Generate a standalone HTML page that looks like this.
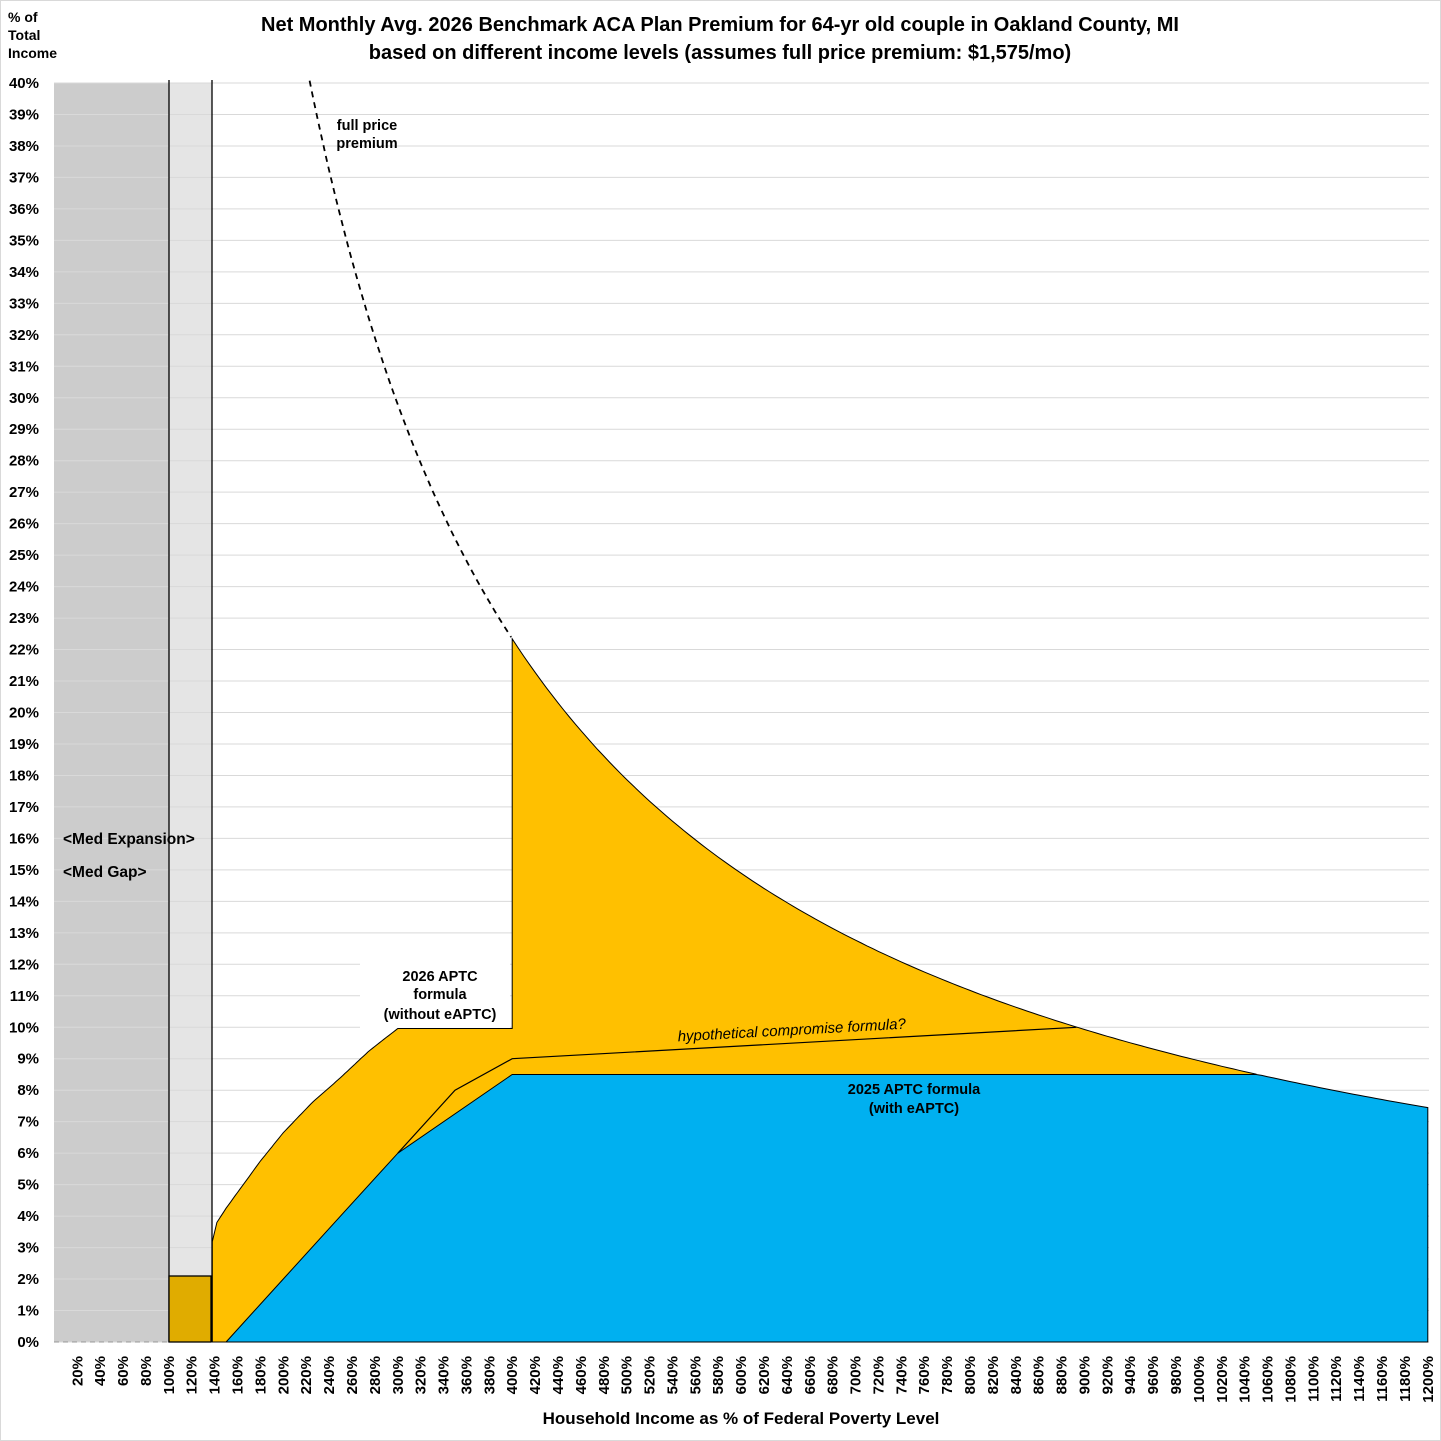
<!DOCTYPE html>
<html><head><meta charset="utf-8"><style>
body{margin:0;background:#fff}
svg{display:block;font-family:"Liberation Sans",Arial,sans-serif}
</style></head><body>
<svg id="s" width="1441" height="1441" xmlns="http://www.w3.org/2000/svg">
<rect x="0" y="0" width="1441" height="1441" fill="#fff"/>
<rect x="0.5" y="0.5" width="1440" height="1440" fill="none" stroke="#d9d9d9"/>
<rect x="54" y="83" width="115" height="1259" fill="#cccccc"/>
<rect x="169" y="83" width="43" height="1259" fill="#e5e5e5"/>
<g id="grid"></g>
<line x1="169" y1="80" x2="169" y2="1342" stroke="#000" stroke-width="1.3"/>
<line x1="212" y1="80" x2="212" y2="1342" stroke="#000" stroke-width="1.3"/>
<rect x="169" y="1276" width="42" height="66" fill="#e0ac00" stroke="#000" stroke-width="1.3"/>
<g id="series"></g>
<rect x="360" y="960" width="150" height="68" fill="#fff"/>
<g font-weight="bold" text-anchor="middle" font-size="14.5" fill="#000">
<text x="440" y="981">2026 APTC</text>
<text x="440" y="999">formula</text>
<text x="440" y="1019">(without eAPTC)</text>
<text x="367" y="130">full price</text>
<text x="367" y="148">premium</text>
<text x="914" y="1094">2025 APTC formula</text>
<text x="914" y="1113">(with eAPTC)</text>
</g>
<text x="792" y="1035" font-size="15" font-style="italic" text-anchor="middle" transform="rotate(-3.2 792 1035)">hypothetical compromise formula?</text>
<g font-weight="bold" font-size="15.5">
<text x="63" y="844">&lt;Med Expansion&gt;</text>
<text x="63" y="877">&lt;Med Gap&gt;</text>
</g>
<g font-weight="bold" font-size="20" text-anchor="middle">
<text x="720" y="31">Net Monthly Avg. 2026 Benchmark ACA Plan Premium for 64-yr old couple in Oakland County, MI</text>
<text x="720" y="59">based on different income levels (assumes full price premium: $1,575/mo)</text>
</g>
<g font-weight="bold" font-size="14">
<text x="8" y="22">% of</text>
<text x="8" y="40">Total</text>
<text x="8" y="58">Income</text>
</g>
<text x="741" y="1424" font-weight="bold" font-size="17" text-anchor="middle">Household Income as % of Federal Poverty Level</text>
<g id="ticks" font-weight="bold" font-size="15"></g>
</svg>
<script>
(function(){
var X=function(p){return 54.4+1.1445*p;}, Y=function(v){return 1342-31.475*v;};
var NS="http://www.w3.org/2000/svg";
function el(par,tag,a,txt){var e=document.createElementNS(NS,tag);for(var k in a)e.setAttribute(k,a[k]);if(txt)e.textContent=txt;document.getElementById(par).appendChild(e);return e;}
for(var i=0;i<=40;i++){el('grid','line',{x1:54,x2:1429,y1:Y(i),y2:Y(i),stroke:'#d9d9d9','stroke-width':1});
el('ticks','text',{x:39,y:Y(i)+5,'text-anchor':'end'},i+'%');}
for(var p=20;p<=1200;p+=20){var x=X(p)+5;el('ticks','text',{x:x,y:1356,'text-anchor':'end',transform:'rotate(-90 '+x+' 1356)'},p+'%');}
function full(p){return 8936/p;}
function pl(pts){return pts.map(function(q,i){return (i?'L':'M')+X(q[0]).toFixed(1)+','+Y(q[1]).toFixed(1);}).join(' ');}
function interp(arr,p){for(var i=1;i<arr.length;i++){if(p<=arr[i][0]){var a=arr[i-1],b=arr[i];return a[1]+(b[1]-a[1])*(p-a[0])/(b[0]-a[0]);}}return arr[arr.length-1][1];}
var apt=[[138,3.19],[142,3.8],[150,4.25],[160,4.75],[180,5.75],[200,6.65],[225,7.6],[250,8.4],[275,9.25],[300,9.96],[400,9.96]];
var upper=[];for(var p=138;p<=400;p+=2)upper.push([p,interp(apt,p)]);
upper.push([400,full(400)]);for(var p=405;p<=1050;p+=5)upper.push([p,full(p)]);
var orange=[[138,0]].concat(upper).concat([[1050,8.5],[150,0]]);
el('series','path',{d:pl(orange)+'Z',fill:'#ffc000',stroke:'#000','stroke-width':1});
var blue=[[150,0],[200,2],[250,4],[300,6],[400,8.5],[1050,8.5]];
for(var p=1055;p<=1200;p+=5)blue.push([p,Math.min(8.5,full(p))]);
blue.push([1200,0]);
el('series','path',{d:pl(blue)+'Z',fill:'#00b0f0',stroke:'#000','stroke-width':1});
var hyp=[[300,6],[350,8],[400,9],[893,10.0]];
el('series','path',{d:pl(hyp),fill:'none',stroke:'#000','stroke-width':1.2});
var d=[];for(var p=223;p<=400;p+=2)d.push([p,full(p)]);
el('series','path',{d:pl(d),fill:'none',stroke:'#000','stroke-width':1.8,'stroke-dasharray':'6,5'});
el('series','line',{x1:54,x2:169,y1:1342,y2:1342,stroke:'#999','stroke-width':1,'stroke-dasharray':'5,4'});
})();
</script>
</body></html>
